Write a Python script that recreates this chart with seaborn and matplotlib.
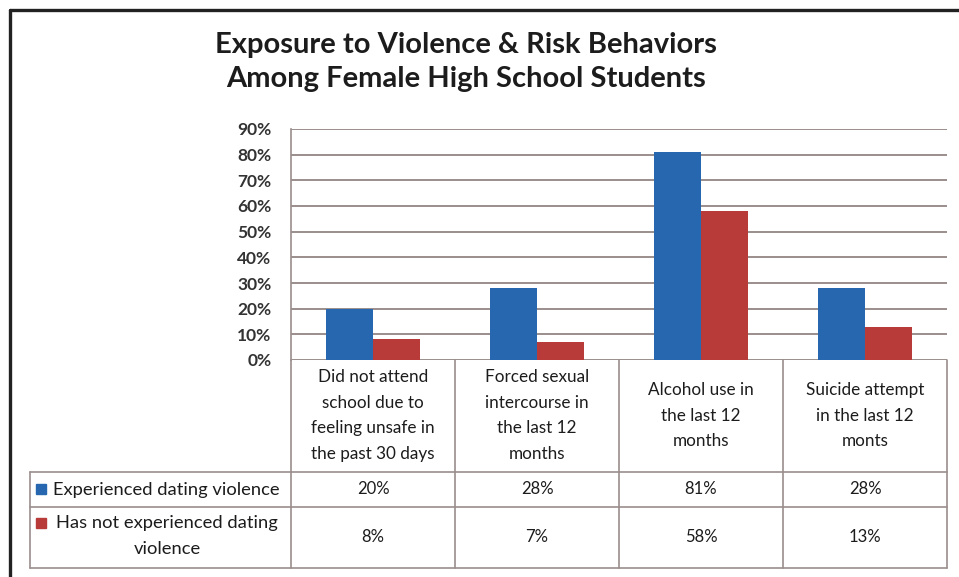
import numpy as np
import pandas as pd
import matplotlib.pyplot as plt
import seaborn as sns
from matplotlib.lines import Line2D

# Dados
categorias = ['Did not attend\nschool due to\nfeeling unsafe in\nthe past 30 days',
              'Forced sexual\nintercourse in\nthe last 12\nmonths',
              'Alcohol use in\nthe last 12\nmonths',
              'Suicide attempt\nin the last 12\nmonts']
series = ['Experienced dating violence', 'Has not experienced dating violence']
rotulos_series = ['Experienced dating violence', 'Has not experienced dating\nviolence']
experienced = [20, 28, 81, 28]
not_experienced = [8, 7, 58, 13]
yticks = [0, 10, 20, 30, 40, 50, 60, 70, 80, 90]
titulo = 'Exposure to Violence & Risk Behaviors\nAmong Female High School Students'

df = pd.DataFrame({
    'categoria': categorias * 2,
    'serie': [series[0]] * 4 + [series[1]] * 4,
    'valor': experienced + not_experienced,
})

# Configurações
sns.set_style('white')
plt.rcParams['font.family'] = ['Lato', 'DejaVu Sans']
azul = '#2767b0'
vermelho = '#b83b39'
cor_linha = '#9a8e8c'
cor_texto = '#1c1c1c'

W, H = 959, 577
fig = plt.figure(figsize=(W / 100, H / 100), dpi=100)


def fx(x):
    return x / W


def fy(y):
    return 1 - y / H


ax = fig.add_axes([fx(291), fy(360), (947 - 291) / W, (360 - 129) / H])
sns.barplot(data=df, x='categoria', y='valor', hue='serie', palette=[azul, vermelho],
            width=0.57, saturation=1, legend=False, ax=ax, errorbar=None, linewidth=0)
ax.set_xlim(-0.5, 3.5)
ax.set_ylim(0, 90)
ax.set_yticks(yticks)
ax.set_yticklabels([f'{v}%' for v in yticks], fontsize=12.5, fontweight='bold', color='#333333')
ax.yaxis.grid(True, color=cor_linha, lw=1.4)
ax.set_axisbelow(True)
for s in ['top', 'right', 'bottom']:
    ax.spines[s].set_visible(False)
ax.spines['left'].set_color(cor_linha)
ax.spines['left'].set_linewidth(1.2)
ax.set_xlabel('')
ax.set_ylabel('')
ax.tick_params(axis='y', length=0, pad=14)
ax.tick_params(axis='x', length=0, pad=40)
ax.set_xticks(range(4))
ax.set_xticklabels(categorias, fontsize=12.3, color=cor_texto, linespacing=1.75)
for lab in ax.get_xticklabels():
    lab.set_va('center')

# Tabela de dados
fig.canvas.draw()
bordas = [ax.transData.transform((x, 0))[0] for x in [-0.5, 0.5, 1.5, 2.5, 3.5]]
centros = [ax.transData.transform((x, 0))[0] for x in range(4)]


def linha(x0, y0, x1, y1, **kw):
    fig.add_artist(Line2D([fx(x0), fx(x1)], [fy(y0), fy(y1)], transform=fig.transFigure, **kw))


for b in bordas:
    linha(b, 360, b, 568, color=cor_linha, lw=1.2)
for y in [472, 507, 568]:
    linha(30, y, 947, y, color=cor_linha, lw=1.2)
linha(30, 472, 30, 568, color=cor_linha, lw=1.2)

for i, c in enumerate(centros):
    fig.text(c / W, fy(489.5), f'{experienced[i]}%', ha='center', va='center', fontsize=12, color=cor_texto)
    fig.text(c / W, fy(537.5), f'{not_experienced[i]}%', ha='center', va='center', fontsize=12, color=cor_texto)

fig.add_artist(Line2D([fx(41)], [fy(489)], marker='s', markersize=6.5, color=azul, transform=fig.transFigure))
fig.text(fx(53), fy(489.5), rotulos_series[0], ha='left', va='center', fontsize=13.2, color=cor_texto)
fig.add_artist(Line2D([fx(41)], [fy(523)], marker='s', markersize=6.5, color=vermelho, transform=fig.transFigure))
fig.text(fx(167), fy(536), rotulos_series[1], ha='center', va='center', fontsize=13.2, color=cor_texto,
         multialignment='center', linespacing=1.7)

# Título
fig.text(fx(466), fy(62), titulo, ha='center', va='center', fontsize=21, fontweight='bold',
         color=cor_texto, linespacing=1.42)

# Moldura
linha(10, 10, 959, 10, color='#222222', lw=2.4)
linha(10, 10, 10, 577, color='#222222', lw=2.4)

fig.savefig('out.png', dpi=100)
